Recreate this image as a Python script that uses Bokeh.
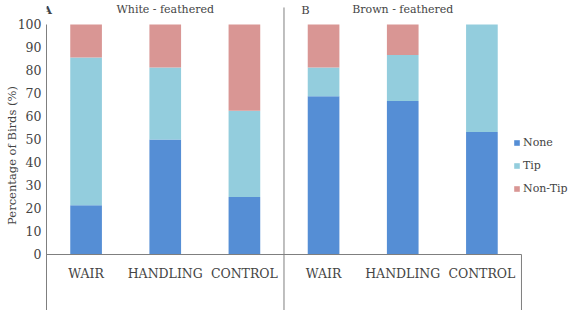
from bokeh.plotting import figure
from bokeh.models import (Range1d, FixedTicker, ColumnDataSource, Label,
                          Legend, LegendItem, LinearAxis)
from bokeh.embed import file_html
from bokeh.resources import INLINE

# Data: percentage of birds per feather-damage class
groups = ["White - feathered", "Brown - feathered"]
panel_letters = ["A", "B"]
treatments = ["WAIR", "HANDLING", "CONTROL"]
none_white = [21.4, 50.0, 25.0]
tip_white = [64.3, 31.25, 37.5]
nontip_white = [14.3, 18.75, 37.5]
none_brown = [68.75, 66.7, 53.3]
tip_brown = [12.5, 20.0, 46.7]
nontip_brown = [18.75, 13.3, 0.0]
series = ["None", "Tip", "Non-Tip"]
colors = ["#558ED5", "#93CDDD", "#D99694"]
y_ticks = [0, 10, 20, 30, 40, 50, 60, 70, 80, 90, 100]

FONT = "DejaVu Serif"
AX = "#7f7f7f"

xs = [i + 0.5 for i in range(6)]
none_all = none_white + none_brown
tip_all = tip_white + tip_brown
nontip_all = nontip_white + nontip_brown
b0 = [0.0] * 6
b1 = [a for a in none_all]
b2 = [a + b for a, b in zip(none_all, tip_all)]
t2 = [a + b for a, b in zip(b2, nontip_all)]

src = ColumnDataSource(dict(x=xs, b0=b0, b1=b1, b2=b2, t2=t2))

# plot area covers the whole canvas right of the y axis; the value axis
# runs 0..100 between 254 px and 24 px from the top
p = figure(width=576, height=310, output_backend="svg", toolbar_location=None,
           x_range=Range1d(0, 6.695), y_range=Range1d(-24.35, 110.43),
           x_axis_location=None, y_axis_location=None,
           min_border_left=46, min_border_right=0, min_border_top=0,
           min_border_bottom=0)
p.outline_line_color = None
p.grid.visible = False

w = 0.4
r_none = p.vbar(x="x", bottom="b0", top="b1", width=w, source=src,
                fill_color=colors[0], line_color=None)
r_tip = p.vbar(x="x", bottom="b1", top="b2", width=w, source=src,
               fill_color=colors[1], line_color=None)
r_nt = p.vbar(x="x", bottom="b2", top="t2", width=w, source=src,
              fill_color=colors[2], line_color=None)

# value axis
yax = LinearAxis(ticker=FixedTicker(ticks=y_ticks), bounds=(-24.35, 100),
                 axis_label="Percentage of Birds (%)")
yax.axis_label_text_font = FONT
yax.axis_label_text_font_style = "normal"
yax.axis_label_text_font_size = "11.5px"
yax.axis_label_standoff = -4
yax.major_label_text_font = FONT
yax.major_label_text_font_size = "12.5px"
yax.major_tick_line_color = None
yax.minor_tick_line_color = None
yax.major_tick_out = 0
yax.major_tick_in = 0
yax.minor_tick_out = 0
yax.major_label_standoff = 5
yax.axis_line_color = AX
p.add_layout(yax, "left")

# category axis sitting on the zero line
xax = LinearAxis(ticker=FixedTicker(ticks=xs), bounds=(0, 6), fixed_location=0)
xax.major_label_overrides = {x: treatments[i % 3] for i, x in enumerate(xs)}
xax.major_label_text_font = FONT
xax.major_label_text_font_size = "12.5px"
xax.major_tick_line_color = None
xax.minor_tick_line_color = None
xax.major_tick_out = 0
xax.major_tick_in = 0
xax.minor_tick_out = 0
xax.major_label_standoff = 12
xax.axis_line_color = AX
p.add_layout(xax, "below")

# panel divider lines below the axis and between the two groups
p.segment(x0=[3, 6], y0=[-24.35, -24.35], x1=[3, 6], y1=[107.4, 0],
          line_color=AX, line_width=1)

# panel titles
for k in range(2):
    p.add_layout(Label(x=3 * k + (0.013 if k == 0 else 0.27), y=106.4,
                       text=panel_letters[k], text_font=FONT,
                       text_font_size="11.5px",
                       text_font_style="bold" if k == 0 else "normal",
                       text_baseline="middle", text_align="center"))
    p.add_layout(Label(x=3 * k + 1.5, y=106.4, text=groups[k],
                       text_font=FONT, text_font_size="11px",
                       text_baseline="middle", text_align="center"))

legend = Legend(items=[LegendItem(label=series[0], renderers=[r_none]),
                       LegendItem(label=series[1], renderers=[r_tip]),
                       LegendItem(label=series[2], renderers=[r_nt])],
                location=(467, 115), border_line_color=None,
                background_fill_alpha=0, label_text_font=FONT,
                label_text_font_size="11px", glyph_width=7, glyph_height=7,
                spacing=10, label_standoff=3, padding=0, margin=0)
p.add_layout(legend)

open("out.html", "w").write(file_html(p, INLINE))
